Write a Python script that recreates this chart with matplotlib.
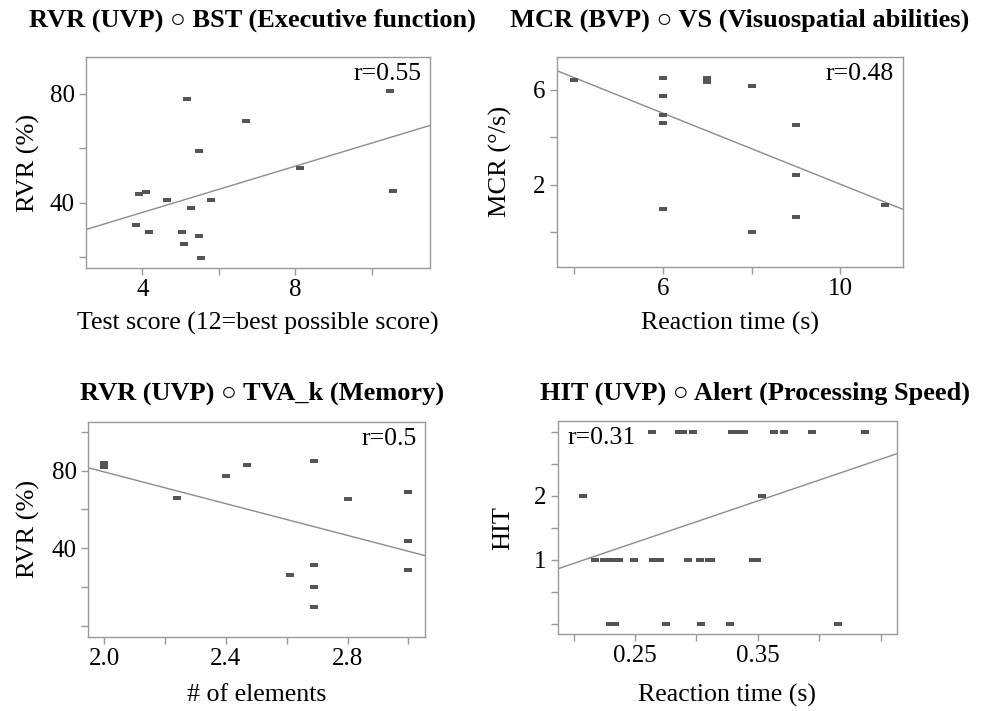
import matplotlib
matplotlib.use("Agg")
import matplotlib.pyplot as plt
import numpy as np

plt.rcParams['font.family'] = ['Liberation Serif', 'DejaVu Serif']

# panel A: RVR vs BST
bst_score = [10.47, 5.18, 6.70, 5.47, 8.13, 10.56, 3.92, 4.11, 4.65, 5.80, 5.28, 3.83, 4.17, 5.04, 5.48, 5.08, 5.54]
bst_rvr = [81.1, 77.9, 69.8, 59.0, 52.8, 44.4, 43.3, 44.0, 41.1, 41.1, 38.0, 31.8, 29.1, 29.1, 27.9, 25.0, 19.9]
bst_fit = [4.24, 19.47]  # slope, intercept

# panel B: MCR vs VS
vs_time = [4, 6, 6, 6, 6, 6, 7, 7, 8, 9, 9, 9, 8, 11]
vs_mcr = [6.39, 6.50, 5.72, 4.91, 4.58, 0.97, 6.50, 6.31, 6.15, 4.51, 2.40, 0.63, 0.02, 1.15]
vs_fit = [-0.747, 9.49]

# panel C: RVR vs TVA_k
tva_k = [2.0, 2.0, 2.24, 2.4, 2.47, 2.69, 2.61, 2.69, 2.69, 2.69, 2.8, 3.0, 3.0, 3.0]
tva_rvr = [84.1, 82.1, 65.9, 77.4, 83.1, 85.2, 26.3, 31.2, 19.9, 10.0, 65.2, 68.8, 43.8, 29.0]
tva_fit = [-40.8, 160.9]

# panel D: HIT vs Alert
alert_time = [0.264, 0.286, 0.289, 0.297, 0.329, 0.335, 0.339, 0.363, 0.371, 0.394, 0.437,
              0.208, 0.353,
              0.217, 0.225, 0.230, 0.234, 0.237, 0.249, 0.265, 0.270, 0.293, 0.303, 0.310, 0.312, 0.346, 0.349,
              0.230, 0.234, 0.275, 0.304, 0.327, 0.415]
alert_hit = [3, 3, 3, 3, 3, 3, 3, 3, 3, 3, 3,
             2, 2,
             1, 1, 1, 1, 1, 1, 1, 1, 1, 1, 1, 1, 1, 1,
             0, 0, 0, 0, 0, 0]
alert_fit = [6.50, -0.355]

panels = [
    dict(x=bst_score, y=bst_rvr, fit=bst_fit, r="r=0.55",
         title="RVR (UVP) \u25cb BST (Executive function)",
         xlabel="Test score (12=best possible score)", ylabel="RVR (%)",
         xlim=(2.53, 11.52), ylim=(16.1, 93.4),
         xt=[4, 6, 8, 10], xl=["4", "", "8", ""],
         yt=[20, 40, 60, 80], yl=["", "40", "", "80"],
         pos=[0.0876, 0.6231, 0.3503, 0.2968]),
    dict(x=vs_time, y=vs_mcr, fit=vs_fit, r="r=0.48",
         title="MCR (BVP) \u25cb VS (Visuospatial abilities)",
         xlabel="Reaction time (s)", ylabel="MCR (\u00b0/s)",
         xlim=(3.61, 11.40), ylim=(-1.44, 7.38),
         xt=[4, 6, 8, 10], xl=["", "6", "", "10"],
         yt=[0, 2, 4, 6], yl=["", "2", "", "6"],
         pos=[0.5669, 0.6249, 0.3523, 0.2954]),
    dict(x=tva_k, y=tva_rvr, fit=tva_fit, r="r=0.5",
         title="RVR (UVP) \u25cb TVA_k (Memory)",
         xlabel="# of elements", ylabel="RVR (%)",
         xlim=(1.945, 3.055), ylim=(-5.5, 105.2),
         xt=[2.0, 2.2, 2.4, 2.6, 2.8, 3.0], xl=["2.0", "", "2.4", "", "2.8", ""],
         yt=[0, 20, 40, 60, 80, 100], yl=["", "", "40", "", "80", ""],
         pos=[0.0893, 0.1045, 0.3435, 0.3024]),
    dict(x=alert_time, y=alert_hit, fit=alert_fit, r="r=0.31",
         title="HIT (UVP) \u25cb Alert (Processing Speed)",
         xlabel="Reaction time (s)", ylabel="HIT",
         xlim=(0.187, 0.463), ylim=(-0.16, 3.166),
         xt=[0.2, 0.25, 0.3, 0.35, 0.4, 0.45], xl=["", "0.25", "", "0.35", "", ""],
         yt=[0, 0.5, 1, 1.5, 2, 2.5, 3], yl=["", "", "1", "", "2", "", ""],
         pos=[0.5679, 0.1079, 0.3452, 0.3000]),
]

# title centres and label positions in figure pixels
title_xy = [(252, 20), (740, 20), (262, 393), (755, 393)]
xlabel_y = [323, 323, 695, 695]
ylabel_x = [28, 500, 28, 503]

rect = [(-1, -0.5), (1, -0.5), (1, 0.5), (-1, 0.5)]

fig = plt.figure(figsize=(9.82, 7.11), dpi=100)
W, H = 982, 711

for i, p in enumerate(panels):
    ax = fig.add_axes(p["pos"])
    ax.scatter(p["x"], p["y"], marker=rect, s=30, color="#555555", linewidths=0, zorder=3)
    xx = np.array(p["xlim"])
    ax.plot(xx, p["fit"][0] * xx + p["fit"][1], color="#8c8c8c", lw=1.0)
    ax.set_xlim(p["xlim"])
    ax.set_ylim(p["ylim"])
    ax.set_xticks(p["xt"])
    ax.set_xticklabels(p["xl"])
    ax.set_yticks(p["yt"])
    ax.set_yticklabels(p["yl"])
    ax.tick_params(direction="out", length=5, width=1, color="#999999", labelsize=18, pad=3)
    for s in ax.spines.values():
        s.set_color("#999999")
        s.set_linewidth(1.0)
    if i == 3:
        ax.text(0.03, 0.97, p["r"], transform=ax.transAxes, ha="left", va="top", fontsize=18.5)
    else:
        ax.text(0.975, 0.97, p["r"], transform=ax.transAxes, ha="right", va="top", fontsize=18.5)

    x0, y0, w, h = p["pos"]
    fig.text(title_xy[i][0] / W, 1 - title_xy[i][1] / H, p["title"], ha="center", va="center",
             fontsize=19, fontweight="bold")
    fig.text((x0 + w / 2), 1 - xlabel_y[i] / H, p["xlabel"], ha="center", va="center", fontsize=18.6)
    fig.text(ylabel_x[i] / W, y0 + h / 2, p["ylabel"], ha="center", va="center", rotation=90, fontsize=19)

fig.savefig("out.png", dpi=100, facecolor="white")
